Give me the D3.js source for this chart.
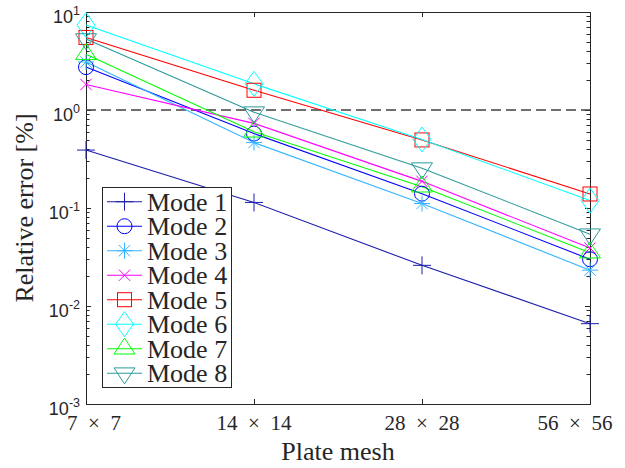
<!DOCTYPE html>
<html><head><meta charset="utf-8">
<script src="https://cdn.jsdelivr.net/npm/d3@7"></script>
<style>body{margin:0;background:#fff}svg{display:block}</style>
</head><body>
<svg id="c" width="625" height="468"></svg>
<script>
const meshes = ["7 × 7", "14 × 14", "28 × 28", "56 × 56"];
const modeNames = ["Mode 1","Mode 2","Mode 3","Mode 4","Mode 5","Mode 6","Mode 7","Mode 8"];
const mode1 = [0.39, 0.114, 0.026, 0.0066];
const mode2 = [2.74, 0.575, 0.14, 0.030];
const mode3 = [3.09, 0.465, 0.111, 0.0232];
const mode4 = [1.82, 0.73, 0.187, 0.039];
const mode5 = [5.5, 1.59, 0.495, 0.139];
const mode6 = [7.35, 1.85, 0.50, 0.119];
const mode7 = [3.7, 0.60, 0.165, 0.035];
const mode8 = [5.3, 0.95, 0.255, 0.054];
const seriesValues = [mode1, mode2, mode3, mode4, mode5, mode6, mode7, mode8];
const colors = ["#1c1cab","#0000ff","#33b5ff","#ff00ff","#ff0000","#00ffff","#00ff00","#2a9a9a"];
const markers = ["plus","circle","asterisk","x","square","diamond","triUp","triDown"];
const yTickExps = [-3, -2, -1, 0, 1];
const referenceLevel = 1;

const SERIF = '"Liberation Serif", serif';
const SANS = '"Liberation Sans", sans-serif';
const svg = d3.select("#c");
const L = 86, R = 590, T = 12, B = 404;
const x = d3.scalePoint().domain(meshes).range([L, R]);
const y = d3.scaleLog().domain([1e-3, 10]).range([B, T]);
const axisColor = "#262626";

// box
svg.append("rect").attr("x", L + 0.5).attr("y", T + 0.5).attr("width", R - L).attr("height", B - T)
  .attr("fill", "none").attr("stroke", axisColor).attr("stroke-width", 1);

// y ticks
const g = svg.append("g").attr("stroke", axisColor).attr("stroke-width", 1);
yTickExps.forEach(e => {
  const yy = Math.round(y(Math.pow(10, e))) + 0.5;
  g.append("line").attr("x1", L).attr("x2", L + 5).attr("y1", yy).attr("y2", yy);
  g.append("line").attr("x1", R).attr("x2", R - 5).attr("y1", yy).attr("y2", yy);
  if (e < 1) {
    for (let k = 2; k <= 9; k++) {
      const ym = Math.round(y(k * Math.pow(10, e))) + 0.5;
      g.append("line").attr("x1", L).attr("x2", L + 3.5).attr("y1", ym).attr("y2", ym);
      g.append("line").attr("x1", R).attr("x2", R - 3.5).attr("y1", ym).attr("y2", ym);
    }
  }
  const t = svg.append("text").style("font-family", SANS).attr("x", 80).attr("y", y(Math.pow(10, e)) + 11)
    .attr("text-anchor", "end").style("font-size", "18px").attr("fill", axisColor);
  t.append("tspan").text("10");
  t.append("tspan").attr("dy", -8).style("font-size", "12.5px").text(String(e));
});

// x ticks
meshes.forEach((m, i) => {
  const xx = Math.round(x(m)) + 0.5;
  if (i > 0 && i < meshes.length - 1) {
    g.append("line").attr("x1", xx).attr("x2", xx).attr("y1", B).attr("y2", B - 5);
    g.append("line").attr("x1", xx).attr("x2", xx).attr("y1", T).attr("y2", T + 5);
  }
  const nudge = i === 0 ? 8 : (i === meshes.length - 1 ? -15 : 0);
  svg.append("text").style("font-family", SERIF).attr("x", x(m) + nudge).attr("y", 430).attr("text-anchor", "middle")
    .style("font-size", "21px").attr("fill", axisColor).text(m.replace(/ /g, "\u2002"));
});

// axis labels
svg.append("text").style("font-family", SERIF).attr("x", 338).attr("y", 460).attr("text-anchor", "middle")
  .style("font-size", "26px").attr("fill", axisColor).text("Plate mesh");
svg.append("text").style("font-family", SERIF).attr("transform", "translate(33,208) rotate(-90)").attr("text-anchor", "middle")
  .style("font-size", "26px").attr("fill", axisColor).text("Relative error [%]");

// reference dashed line
svg.append("line").attr("x1", L).attr("x2", R).attr("y1", y(referenceLevel)).attr("y2", y(referenceLevel))
  .attr("stroke", "#404040").attr("stroke-width", 1.3).attr("stroke-dasharray", "10,5");

function drawMarker(sel, type, cx, cy, color) {
  const gm = sel.append("g").attr("transform", `translate(${cx},${cy})`)
    .attr("fill", "none").attr("stroke", color).attr("stroke-width", 1);
  const ln = (a, b, c, d) => gm.append("line").attr("x1", a).attr("y1", b).attr("x2", c).attr("y2", d);
  if (type === "plus") { ln(-9, 0, 9, 0); ln(0, -9, 0, 9); }
  else if (type === "circle") gm.append("circle").attr("r", 7.5);
  else if (type === "asterisk") { ln(-8, 0, 8, 0); ln(0, -8, 0, 8); ln(-5.7, -5.7, 5.7, 5.7); ln(-5.7, 5.7, 5.7, -5.7); }
  else if (type === "x") { ln(-5.7, -5.7, 5.7, 5.7); ln(-5.7, 5.7, 5.7, -5.7); }
  else if (type === "square") gm.append("rect").attr("x", -7).attr("y", -7).attr("width", 14).attr("height", 14);
  else if (type === "diamond") gm.append("path").attr("d", "M0,-12.5L9,0L0,12.5L-9,0Z");
  else if (type === "triUp") gm.append("path").attr("d", "M0,-10.7L10.5,5.3L-10.5,5.3Z");
  else if (type === "triDown") gm.append("path").attr("d", "M0,10.7L10.5,-5.3L-10.5,-5.3Z");
}

const line = d3.line().x((d, i) => x(meshes[i])).y(d => y(d));
seriesValues.forEach((vals, s) => {
  svg.append("path").attr("d", line(vals)).attr("fill", "none")
    .attr("stroke", colors[s]).attr("stroke-width", 1.1);
});
seriesValues.forEach((vals, s) => {
  vals.forEach((v, i) => drawMarker(svg, markers[s], x(meshes[i]), y(v), colors[s]));
});

// legend
const lg = svg.append("g");
lg.append("rect").attr("x", 102.5).attr("y", 187.5).attr("width", 129).attr("height", 200)
  .attr("fill", "#fff").attr("stroke", axisColor).attr("stroke-width", 1);
modeNames.forEach((name, s) => {
  const yy = 201.7 + s * 24.5;
  lg.append("line").attr("x1", 107).attr("x2", 142).attr("y1", yy).attr("y2", yy)
    .attr("stroke", colors[s]).attr("stroke-width", 1.1);
  drawMarker(lg, markers[s], 124.5, yy, colors[s]);
  lg.append("text").style("font-family", SERIF).attr("x", 147).attr("y", yy + 9)
    .style("font-size", "26px").attr("fill", axisColor).text(name);
});
</script>
</body></html>
